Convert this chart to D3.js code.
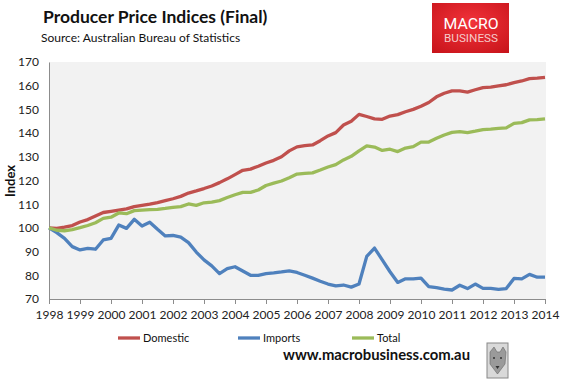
<!DOCTYPE html>
<html>
<head>
<meta charset="utf-8">
<script src="https://cdn.jsdelivr.net/npm/d3@7"></script>
<style>
  html, body { margin: 0; padding: 0; background: #fff; }
  svg { display: block; font-family: Lato, "Open Sans", sans-serif; }
</style>
</head>
<body>
<svg id="chart" width="562" height="380"></svg>
<script>
// ---- data ----
const years = [1998, 1999, 2000, 2001, 2002, 2003, 2004, 2005, 2006, 2007, 2008, 2009, 2010, 2011, 2012, 2013, 2014];
const yTicks = [70, 80, 90, 100, 110, 120, 130, 140, 150, 160, 170];
const seriesNames = ["Domestic", "Imports", "Total"];
const seriesColors = ["#C0504D", "#4F81BD", "#9BBB59"];

const domestic = [
  100, 99.8, 100.3, 101,
  102.5, 103.5, 105, 106.5,
  107, 107.5, 108, 109,
  109.5, 110, 110.7, 111.5,
  112.3, 113.3, 114.7, 115.6,
  116.6, 117.7, 119.1, 120.7,
  122.5, 124.3, 124.8, 126,
  127.4, 128.5, 130, 132.5,
  134.2, 134.7, 135, 136.8,
  138.8, 140.2, 143.4, 145,
  147.9, 147, 146, 145.8,
  147.2, 147.8, 149, 150,
  151.3, 152.9, 155.3, 156.8,
  157.8, 157.8, 157.3, 158.3,
  159.2, 159.4, 159.9, 160.4,
  161.3, 162, 163, 163.2,
  163.5
];
const imports = [
  100, 98, 95.6, 92.1,
  90.7, 91.4, 91, 94.9,
  95.6, 101.2, 99.8, 103.6,
  100.8, 102.4, 99.4, 96.6,
  96.8, 96.1, 93.8, 89.8,
  86.5, 84, 80.7, 82.8,
  83.6, 81.8, 80, 80,
  80.7, 81, 81.4, 81.9,
  81.2, 80, 78.8, 77.5,
  76.3, 75.5, 75.9, 75,
  76.3, 88, 91.5, 86.5,
  81.5, 77, 78.5, 78.5,
  78.8, 75.2, 74.8, 74.2,
  73.8, 75.8, 74.4, 76.3,
  74.5, 74.5, 74.1, 74.4,
  78.7, 78.5, 80.4, 79.2,
  79.2
];
const total = [
  100, 99, 98.8, 99.3,
  100.1, 101, 102.2, 104,
  104.5, 106.3, 106, 107.3,
  107.5, 107.7, 107.8, 108.2,
  108.7, 109, 110.1, 109.5,
  110.6, 110.9, 111.5, 112.8,
  114, 115, 115, 116,
  117.9, 118.9, 119.8, 121.2,
  122.7, 123, 123.2, 124.4,
  125.7, 126.7, 128.7, 130.2,
  132.5, 134.6, 134.1, 132.7,
  133.2, 132.2, 133.7, 134.3,
  136.2, 136.2, 137.8, 139.2,
  140.3, 140.6, 140.2, 140.8,
  141.5, 141.7, 142, 142.2,
  144.1, 144.4, 145.6, 145.7,
  146
];
// quarterly periods (1998 Q1 ... 2014 Q1), expressed as fractional years
const periods = domestic.map((_, i) => years[0] + Math.floor(i / 4) + (i % 4) / 4);

// ---- layout ----
const svg = d3.select("#chart");
const plotLeft = 49, plotRight = 545, plotTop = 62, plotBottom = 299;

const x = d3.scaleLinear().domain([years[0], years[years.length - 1]]).range([plotLeft, plotRight]);
const y = d3.scaleLinear().domain([70, 170]).range([plotBottom, plotTop]);

// plot background
svg.append("rect").attr("x", plotLeft).attr("y", plotTop)
  .attr("width", plotRight - plotLeft + 1).attr("height", plotBottom - plotTop)
  .attr("fill", "#f2f2f2");

// y axis
const yAxis = svg.append("g").attr("transform", `translate(${plotLeft},0)`)
  .call(d3.axisLeft(y).tickValues(yTicks).tickSize(0).tickPadding(10));
yAxis.select(".domain").attr("stroke", "#8c8c8c");
yAxis.selectAll("text").attr("font-size", 12).attr("fill", "#222")
  .attr("font-family", "Lato, sans-serif");

// x axis
const xAxis = svg.append("g").attr("transform", `translate(0,${plotBottom})`)
  .call(d3.axisBottom(x).tickValues(years).tickFormat(d3.format("d")).tickSizeInner(5).tickSizeOuter(0).tickPadding(6));
xAxis.select(".domain").attr("stroke", "#8c8c8c");
xAxis.selectAll(".tick line").attr("stroke", "#8c8c8c");
xAxis.selectAll("text").attr("font-size", 12).attr("fill", "#222")
  .attr("font-family", "Lato, sans-serif");

// y axis title
svg.append("text").attr("transform", `translate(15,181) rotate(-90)`)
  .attr("text-anchor", "middle").attr("font-weight", "bold").attr("font-size", 13)
  .attr("fill", "#111").text("Index");

// lines
const line = d3.line().x((d, i) => x(periods[i])).y(d => y(d));
[domestic, imports, total].forEach((s, k) => {
  svg.append("path").datum(s).attr("d", line)
    .attr("fill", "none").attr("stroke", seriesColors[k])
    .attr("stroke-width", 3.3).attr("stroke-linejoin", "round");
});

// titles
svg.append("text").attr("x", 43).attr("y", 23).attr("font-size", 17.5)
  .attr("font-weight", "bold").attr("fill", "#111").text("Producer Price Indices (Final)");
svg.append("text").attr("x", 41).attr("y", 42).attr("font-size", 12)
  .attr("fill", "#111").text("Source: Australian Bureau of Statistics");

// legend
const legendX = [118, 238, 352];
seriesNames.forEach((name, k) => {
  const g = svg.append("g").attr("transform", `translate(${legendX[k]},338)`);
  g.append("line").attr("x1", 0).attr("x2", 22).attr("y1", 0).attr("y2", 0)
    .attr("stroke", seriesColors[k]).attr("stroke-width", 3.3);
  g.append("text").attr("x", 25).attr("y", 4).attr("font-size", 11)
    .attr("fill", "#111").text(name);
});

// website
svg.append("text").attr("x", 283).attr("y", 360).attr("font-size", 16)
  .attr("font-weight", "bold").attr("fill", "#111")
  .attr("textLength", 187).attr("lengthAdjust", "spacingAndGlyphs")
  .text("www.macrobusiness.com.au");

// logo
const defs = svg.append("defs");
const grad = defs.append("radialGradient").attr("id", "logoGrad")
  .attr("cx", "50%").attr("cy", "40%").attr("r", "75%");
grad.append("stop").attr("offset", "0%").attr("stop-color", "#f2333a");
grad.append("stop").attr("offset", "100%").attr("stop-color", "#c8141b");
svg.append("rect").attr("x", 432).attr("y", 3).attr("width", 77).attr("height", 50)
  .attr("fill", "url(#logoGrad)");
svg.append("text").attr("x", 471).attr("y", 28.5).attr("text-anchor", "middle")
  .attr("font-family", "Roboto, sans-serif").attr("font-size", 15.5)
  .attr("fill", "#fff").attr("textLength", 55).attr("lengthAdjust", "spacingAndGlyphs").text("MACRO");
svg.append("text").attr("x", 471).attr("y", 42).attr("text-anchor", "middle")
  .attr("font-family", "Roboto, sans-serif").attr("font-size", 11.5)
  .attr("fill", "#f6caca").attr("textLength", 54).attr("lengthAdjust", "spacingAndGlyphs").text("BUSINESS");

// wolf badge
const wolf = svg.append("g");
wolf.append("rect").attr("x", 487).attr("y", 343).attr("width", 21).attr("height", 35)
  .attr("fill", "#d9d9d9").attr("stroke", "#888").attr("stroke-width", 1);
wolf.append("path").attr("d", "M490,352 L494,347 L497,352 L500,352 L503,347 L506,352 L505,364 L497.5,374 L490,364 Z")
  .attr("fill", "#9a9a9a").attr("stroke", "#666").attr("stroke-width", 0.6);
wolf.append("circle").attr("cx", 494).attr("cy", 358).attr("r", 1).attr("fill", "#333");
wolf.append("circle").attr("cx", 501).attr("cy", 358).attr("r", 1).attr("fill", "#333");
wolf.append("path").attr("d", "M495.5,366 L497.5,369 L499.5,366 Z").attr("fill", "#333");
</script>
</body>
</html>
